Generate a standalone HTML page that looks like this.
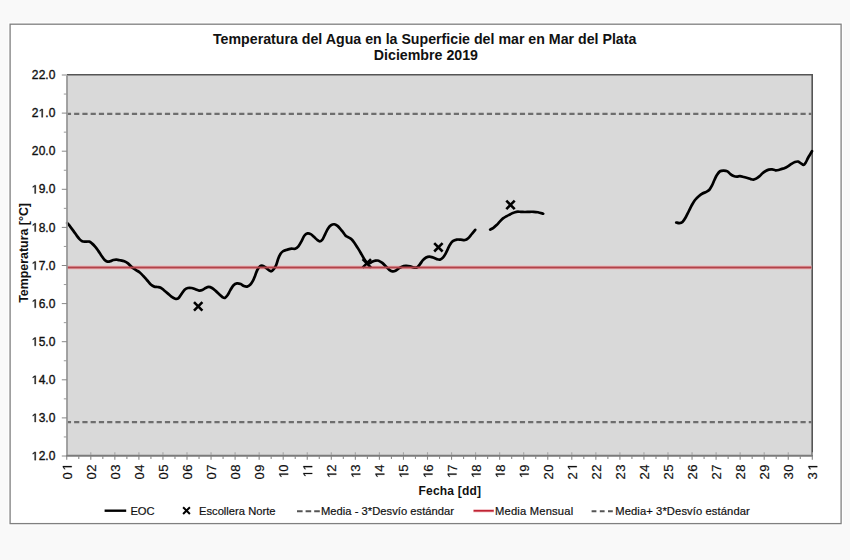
<!DOCTYPE html>
<html><head><meta charset="utf-8"><title>Temperatura del Agua - Mar del Plata</title>
<style>
html,body{margin:0;padding:0;background:#f9f9f9;}
svg{display:block;font-family:"Liberation Sans", sans-serif;}
</style></head><body>
<svg width="850" height="560" viewBox="0 0 850 560">
<rect x="0" y="0" width="850" height="560" fill="#f9f9f9"/>
<rect x="8.85" y="22.95" width="833.45" height="501.85" fill="none" stroke="#ffffff" stroke-width="1.1"/>
<rect x="10.1" y="24.2" width="831.0" height="499.4" fill="#ffffff" stroke="#808080" stroke-width="1.3"/>

<text x="424.7" y="43.9" text-anchor="middle" font-size="14.2" font-weight="bold" fill="#111">Temperatura del Agua en la Superficie del mar en Mar del Plata</text>
<text x="425.9" y="59.8" text-anchor="middle" font-size="14.2" font-weight="bold" fill="#111">Diciembre 2019</text>
<rect x="67" y="75" width="745" height="380.7" fill="#d9d9d9"/>
<path d="M67,74.8H812.2V455.7" fill="none" stroke="#555" stroke-width="1.6"/>
<line x1="67.5" y1="113.9" x2="811.5" y2="113.9" stroke="#6e6e6e" stroke-width="2.2" stroke-dasharray="5.2 3.0545" stroke-dashoffset="1.65"/>
<line x1="67.5" y1="422.1" x2="811.5" y2="422.1" stroke="#6e6e6e" stroke-width="2.2" stroke-dasharray="5.2 3.0545" stroke-dashoffset="1.65"/>
<line x1="67" y1="267.5" x2="811.5" y2="267.5" stroke="#ecbcbe" stroke-width="4.2"/>
<path d="M67.20,223.00 C67.73,223.63 69.33,225.45 70.40,226.80 C71.47,228.15 72.52,229.58 73.60,231.10 C74.68,232.62 75.92,234.57 76.90,235.90 C77.88,237.23 78.62,238.21 79.50,239.10 C80.38,239.99 81.22,240.83 82.20,241.25 C83.18,241.67 84.23,241.54 85.40,241.60 C86.57,241.66 88.12,241.30 89.20,241.60 C90.28,241.90 90.92,242.57 91.90,243.40 C92.88,244.23 94.03,245.35 95.10,246.60 C96.17,247.85 97.23,249.38 98.30,250.90 C99.37,252.42 100.43,254.18 101.50,255.70 C102.57,257.22 103.72,259.02 104.70,260.00 C105.68,260.98 106.50,261.38 107.40,261.60 C108.30,261.82 109.12,261.57 110.10,261.30 C111.08,261.03 112.23,260.27 113.30,260.00 C114.37,259.73 115.43,259.67 116.50,259.70 C117.57,259.73 118.40,259.94 119.70,260.20 C121.00,260.46 122.92,260.72 124.30,261.25 C125.68,261.78 126.75,262.42 128.00,263.40 C129.25,264.38 130.45,265.98 131.80,267.10 C133.15,268.22 134.77,269.20 136.10,270.10 C137.43,271.00 138.55,271.48 139.80,272.50 C141.05,273.52 142.35,274.92 143.60,276.25 C144.85,277.58 146.05,279.07 147.30,280.50 C148.55,281.93 149.93,283.78 151.10,284.80 C152.27,285.82 153.23,286.23 154.30,286.60 C155.37,286.97 156.43,286.82 157.50,287.00 C158.57,287.18 159.63,287.17 160.70,287.70 C161.77,288.23 162.73,289.25 163.90,290.20 C165.07,291.15 166.45,292.33 167.70,293.40 C168.95,294.47 170.15,295.71 171.40,296.60 C172.65,297.49 174.07,298.45 175.20,298.75 C176.33,299.05 177.17,299.17 178.20,298.40 C179.23,297.62 180.33,295.53 181.40,294.10 C182.47,292.67 183.52,290.82 184.60,289.80 C185.68,288.78 186.73,288.30 187.90,288.00 C189.07,287.70 190.35,287.78 191.60,288.00 C192.85,288.22 194.15,288.87 195.40,289.30 C196.65,289.73 197.95,290.47 199.10,290.60 C200.25,290.73 201.23,290.53 202.30,290.10 C203.37,289.67 204.43,288.53 205.50,288.00 C206.57,287.47 207.67,286.90 208.75,286.90 C209.83,286.90 210.84,287.33 212.00,288.00 C213.16,288.67 214.45,289.83 215.70,290.90 C216.95,291.97 218.33,293.33 219.50,294.40 C220.67,295.47 221.82,296.72 222.70,297.30 C223.58,297.88 224.00,298.25 224.80,297.90 C225.60,297.55 226.60,296.45 227.50,295.20 C228.40,293.95 229.23,292.02 230.20,290.40 C231.17,288.78 232.17,286.67 233.30,285.50 C234.43,284.33 235.77,283.63 237.00,283.40 C238.23,283.17 239.55,283.65 240.70,284.10 C241.85,284.55 242.83,285.68 243.90,286.10 C244.97,286.52 246.02,286.87 247.10,286.60 C248.18,286.33 249.42,285.48 250.40,284.50 C251.38,283.52 252.20,282.22 253.00,280.70 C253.80,279.18 254.48,277.18 255.20,275.40 C255.92,273.62 256.50,271.52 257.30,270.00 C258.10,268.48 259.10,266.97 260.00,266.25 C260.90,265.53 261.80,265.52 262.70,265.70 C263.60,265.88 264.42,266.58 265.40,267.30 C266.38,268.02 267.62,269.33 268.60,270.00 C269.58,270.67 270.37,271.48 271.25,271.30 C272.13,271.12 273.09,269.92 273.90,268.90 C274.71,267.88 275.38,266.89 276.10,265.20 C276.82,263.51 277.48,260.63 278.20,258.75 C278.92,256.87 279.60,255.15 280.40,253.90 C281.20,252.65 282.02,251.92 283.00,251.25 C283.98,250.58 285.38,250.21 286.25,249.90 C287.12,249.59 287.34,249.62 288.20,249.40 C289.06,249.18 290.23,248.70 291.40,248.60 C292.57,248.50 294.03,249.17 295.20,248.80 C296.37,248.43 297.33,247.68 298.40,246.40 C299.47,245.12 300.62,242.88 301.60,241.10 C302.58,239.32 303.32,236.98 304.30,235.70 C305.28,234.42 306.43,233.67 307.50,233.40 C308.57,233.13 309.63,233.53 310.70,234.10 C311.77,234.67 312.83,235.85 313.90,236.80 C314.97,237.75 316.12,239.05 317.10,239.80 C318.08,240.55 318.90,241.35 319.80,241.30 C320.70,241.25 321.60,240.70 322.50,239.50 C323.40,238.30 324.30,235.89 325.20,234.10 C326.10,232.31 326.92,230.23 327.90,228.75 C328.88,227.27 330.03,225.95 331.10,225.20 C332.17,224.45 333.23,224.13 334.30,224.25 C335.37,224.37 336.43,225.06 337.50,225.90 C338.57,226.74 339.83,228.32 340.70,229.30 C341.57,230.28 341.92,230.77 342.70,231.80 C343.48,232.83 344.52,234.62 345.40,235.50 C346.28,236.38 347.02,236.50 348.00,237.10 C348.98,237.70 350.17,238.12 351.25,239.10 C352.33,240.08 353.43,241.53 354.50,243.00 C355.57,244.47 356.63,246.20 357.70,247.90 C358.77,249.60 359.92,251.52 360.90,253.20 C361.88,254.88 362.71,256.57 363.60,258.00 C364.49,259.43 365.37,260.90 366.25,261.80 C367.13,262.70 367.92,263.40 368.90,263.40 C369.88,263.40 371.02,262.25 372.10,261.80 C373.18,261.35 374.32,260.88 375.40,260.70 C376.48,260.52 377.45,260.33 378.60,260.70 C379.75,261.07 381.05,261.92 382.30,262.90 C383.55,263.88 384.93,265.45 386.10,266.60 C387.27,267.75 388.23,269.00 389.30,269.80 C390.37,270.60 391.47,271.23 392.50,271.40 C393.53,271.57 394.55,271.24 395.50,270.80 C396.45,270.36 397.22,269.40 398.20,268.75 C399.18,268.10 400.15,267.38 401.40,266.90 C402.65,266.42 404.27,266.00 405.70,265.90 C407.13,265.80 408.57,266.00 410.00,266.30 C411.43,266.60 413.05,267.57 414.30,267.70 C415.55,267.83 416.52,267.73 417.50,267.10 C418.48,266.47 419.30,265.05 420.20,263.90 C421.10,262.75 421.92,261.27 422.90,260.20 C423.88,259.13 425.03,258.10 426.10,257.50 C427.17,256.90 428.15,256.60 429.30,256.60 C430.45,256.60 431.75,257.08 433.00,257.50 C434.25,257.92 435.63,258.75 436.80,259.10 C437.97,259.45 438.98,259.83 440.00,259.60 C441.02,259.37 441.97,258.70 442.90,257.70 C443.83,256.70 444.77,255.08 445.60,253.60 C446.43,252.12 447.15,250.33 447.90,248.80 C448.65,247.27 449.28,245.67 450.10,244.40 C450.92,243.13 451.68,242.00 452.80,241.20 C453.92,240.40 455.48,239.85 456.80,239.60 C458.12,239.35 459.33,239.63 460.70,239.70 C462.07,239.77 463.75,240.25 465.00,240.00 C466.25,239.75 467.13,239.12 468.20,238.20 C469.27,237.28 470.23,235.88 471.40,234.50 C472.57,233.12 474.57,230.67 475.20,229.90" fill="none" stroke="#000" stroke-width="2.7" stroke-linejoin="round" stroke-linecap="round"/>
<path d="M490.20,229.60 C490.73,229.30 492.33,228.57 493.40,227.80 C494.47,227.03 495.53,226.03 496.60,225.00 C497.67,223.97 498.73,222.70 499.80,221.60 C500.87,220.50 501.88,219.30 503.00,218.40 C504.12,217.50 505.33,216.85 506.50,216.20 C507.67,215.55 508.97,215.02 510.00,214.50 C511.03,213.98 511.63,213.55 512.70,213.10 C513.77,212.65 515.07,212.02 516.40,211.80 C517.73,211.58 519.27,211.77 520.70,211.80 C522.13,211.83 523.57,212.00 525.00,212.00 C526.43,212.00 527.87,211.83 529.30,211.80 C530.73,211.77 532.17,211.72 533.60,211.80 C535.03,211.88 536.30,211.98 537.90,212.30 C539.50,212.62 542.32,213.47 543.20,213.70" fill="none" stroke="#000" stroke-width="2.7" stroke-linejoin="round" stroke-linecap="round"/>
<path d="M676.25,222.50 C676.77,222.60 678.36,223.20 679.40,223.10 C680.44,223.00 681.47,222.83 682.50,221.90 C683.53,220.97 684.56,219.28 685.60,217.50 C686.64,215.72 687.70,213.33 688.75,211.25 C689.80,209.17 690.86,206.88 691.90,205.00 C692.94,203.12 693.86,201.46 695.00,200.00 C696.14,198.54 697.50,197.33 698.75,196.25 C700.00,195.17 701.25,194.22 702.50,193.50 C703.75,192.78 705.10,192.53 706.25,191.90 C707.40,191.28 708.46,190.80 709.40,189.75 C710.34,188.70 711.07,187.22 711.90,185.60 C712.73,183.97 713.57,181.77 714.40,180.00 C715.23,178.23 715.97,176.46 716.90,175.00 C717.83,173.54 718.86,171.98 720.00,171.25 C721.14,170.52 722.50,170.57 723.75,170.60 C725.00,170.62 726.39,170.82 727.50,171.40 C728.61,171.98 729.38,173.35 730.40,174.10 C731.42,174.85 732.53,175.48 733.60,175.90 C734.67,176.32 735.73,176.55 736.80,176.60 C737.87,176.65 738.84,176.13 740.00,176.20 C741.16,176.27 742.50,176.70 743.75,177.00 C745.00,177.30 746.34,177.65 747.50,178.00 C748.66,178.35 749.72,178.83 750.70,179.10 C751.68,179.37 752.50,179.68 753.40,179.60 C754.30,179.52 755.12,179.13 756.10,178.60 C757.08,178.07 758.23,177.30 759.30,176.40 C760.37,175.50 761.43,174.10 762.50,173.20 C763.57,172.30 764.63,171.60 765.70,171.00 C766.77,170.40 767.83,169.87 768.90,169.60 C769.97,169.33 771.02,169.28 772.10,169.40 C773.18,169.52 774.32,170.20 775.40,170.30 C776.48,170.40 777.53,170.23 778.60,170.00 C779.67,169.77 780.85,169.20 781.80,168.90 C782.75,168.60 783.28,168.63 784.30,168.20 C785.32,167.77 786.72,167.02 787.90,166.30 C789.08,165.58 790.22,164.62 791.40,163.90 C792.58,163.18 793.87,162.38 795.00,162.00 C796.13,161.62 797.20,161.37 798.20,161.60 C799.20,161.83 800.10,162.85 801.00,163.40 C801.90,163.95 802.80,165.07 803.60,164.90 C804.40,164.73 805.07,163.55 805.80,162.40 C806.53,161.25 807.23,159.40 808.00,158.00 C808.77,156.60 809.73,155.13 810.40,154.00 C811.07,152.87 811.73,151.67 812.00,151.20" fill="none" stroke="#000" stroke-width="2.7" stroke-linejoin="round" stroke-linecap="round"/>
<path d="M194.00,302.20L202.40,310.60M194.00,310.60L202.40,302.20" stroke="#000" stroke-width="2.6" fill="none"/>
<path d="M362.60,259.20L371.00,267.60M362.60,267.60L371.00,259.20" stroke="#000" stroke-width="2.6" fill="none"/>
<path d="M434.20,243.10L442.60,251.50M434.20,251.50L442.60,243.10" stroke="#000" stroke-width="2.6" fill="none"/>
<path d="M506.30,200.70L514.70,209.10M506.30,209.10L514.70,200.70" stroke="#000" stroke-width="2.6" fill="none"/>
<line x1="67" y1="267.5" x2="811.5" y2="267.5" stroke="#b2434a" stroke-width="1.9"/>
<line x1="67" y1="75.6" x2="67" y2="456" stroke="#999" stroke-width="1.8"/>
<line x1="66" y1="455.7" x2="813" y2="455.7" stroke="#7a7a7a" stroke-width="2"/>
<line x1="61.8" y1="456.00" x2="67" y2="456.00" stroke="#888" stroke-width="1"/>
<g transform="translate(55.5,460.15)"><path transform="translate(-23.84,0) scale(0.005859,-0.005859)" d="M515,0V1237L197,1010V1180L530,1409H696V0Z" fill="#111" stroke="#111" stroke-width="59.7"/><text x="-16.84" y="0" font-size="12" fill="#111" stroke="#111" stroke-width="0.35">2</text><text x="-10.17" y="0" font-size="12" fill="#111" stroke="#111" stroke-width="0.35">.</text><text x="-6.84" y="0" font-size="12" fill="#111" stroke="#111" stroke-width="0.35">0</text></g>
<line x1="63.8" y1="436.95" x2="67" y2="436.95" stroke="#999" stroke-width="1"/>
<line x1="61.8" y1="417.90" x2="67" y2="417.90" stroke="#888" stroke-width="1"/>
<g transform="translate(55.5,422.05)"><path transform="translate(-23.84,0) scale(0.005859,-0.005859)" d="M515,0V1237L197,1010V1180L530,1409H696V0Z" fill="#111" stroke="#111" stroke-width="59.7"/><text x="-16.84" y="0" font-size="12" fill="#111" stroke="#111" stroke-width="0.35">3</text><text x="-10.17" y="0" font-size="12" fill="#111" stroke="#111" stroke-width="0.35">.</text><text x="-6.84" y="0" font-size="12" fill="#111" stroke="#111" stroke-width="0.35">0</text></g>
<line x1="63.8" y1="398.85" x2="67" y2="398.85" stroke="#999" stroke-width="1"/>
<line x1="61.8" y1="379.80" x2="67" y2="379.80" stroke="#888" stroke-width="1"/>
<g transform="translate(55.5,383.95)"><path transform="translate(-23.84,0) scale(0.005859,-0.005859)" d="M515,0V1237L197,1010V1180L530,1409H696V0Z" fill="#111" stroke="#111" stroke-width="59.7"/><text x="-16.84" y="0" font-size="12" fill="#111" stroke="#111" stroke-width="0.35">4</text><text x="-10.17" y="0" font-size="12" fill="#111" stroke="#111" stroke-width="0.35">.</text><text x="-6.84" y="0" font-size="12" fill="#111" stroke="#111" stroke-width="0.35">0</text></g>
<line x1="63.8" y1="360.75" x2="67" y2="360.75" stroke="#999" stroke-width="1"/>
<line x1="61.8" y1="341.70" x2="67" y2="341.70" stroke="#888" stroke-width="1"/>
<g transform="translate(55.5,345.85)"><path transform="translate(-23.84,0) scale(0.005859,-0.005859)" d="M515,0V1237L197,1010V1180L530,1409H696V0Z" fill="#111" stroke="#111" stroke-width="59.7"/><text x="-16.84" y="0" font-size="12" fill="#111" stroke="#111" stroke-width="0.35">5</text><text x="-10.17" y="0" font-size="12" fill="#111" stroke="#111" stroke-width="0.35">.</text><text x="-6.84" y="0" font-size="12" fill="#111" stroke="#111" stroke-width="0.35">0</text></g>
<line x1="63.8" y1="322.65" x2="67" y2="322.65" stroke="#999" stroke-width="1"/>
<line x1="61.8" y1="303.60" x2="67" y2="303.60" stroke="#888" stroke-width="1"/>
<g transform="translate(55.5,307.75)"><path transform="translate(-23.84,0) scale(0.005859,-0.005859)" d="M515,0V1237L197,1010V1180L530,1409H696V0Z" fill="#111" stroke="#111" stroke-width="59.7"/><text x="-16.84" y="0" font-size="12" fill="#111" stroke="#111" stroke-width="0.35">6</text><text x="-10.17" y="0" font-size="12" fill="#111" stroke="#111" stroke-width="0.35">.</text><text x="-6.84" y="0" font-size="12" fill="#111" stroke="#111" stroke-width="0.35">0</text></g>
<line x1="63.8" y1="284.55" x2="67" y2="284.55" stroke="#999" stroke-width="1"/>
<line x1="61.8" y1="265.50" x2="67" y2="265.50" stroke="#888" stroke-width="1"/>
<g transform="translate(55.5,269.65)"><path transform="translate(-23.84,0) scale(0.005859,-0.005859)" d="M515,0V1237L197,1010V1180L530,1409H696V0Z" fill="#111" stroke="#111" stroke-width="59.7"/><text x="-16.84" y="0" font-size="12" fill="#111" stroke="#111" stroke-width="0.35">7</text><text x="-10.17" y="0" font-size="12" fill="#111" stroke="#111" stroke-width="0.35">.</text><text x="-6.84" y="0" font-size="12" fill="#111" stroke="#111" stroke-width="0.35">0</text></g>
<line x1="63.8" y1="246.45" x2="67" y2="246.45" stroke="#999" stroke-width="1"/>
<line x1="61.8" y1="227.40" x2="67" y2="227.40" stroke="#888" stroke-width="1"/>
<g transform="translate(55.5,231.55)"><path transform="translate(-23.84,0) scale(0.005859,-0.005859)" d="M515,0V1237L197,1010V1180L530,1409H696V0Z" fill="#111" stroke="#111" stroke-width="59.7"/><text x="-16.84" y="0" font-size="12" fill="#111" stroke="#111" stroke-width="0.35">8</text><text x="-10.17" y="0" font-size="12" fill="#111" stroke="#111" stroke-width="0.35">.</text><text x="-6.84" y="0" font-size="12" fill="#111" stroke="#111" stroke-width="0.35">0</text></g>
<line x1="63.8" y1="208.35" x2="67" y2="208.35" stroke="#999" stroke-width="1"/>
<line x1="61.8" y1="189.30" x2="67" y2="189.30" stroke="#888" stroke-width="1"/>
<g transform="translate(55.5,193.45)"><path transform="translate(-23.84,0) scale(0.005859,-0.005859)" d="M515,0V1237L197,1010V1180L530,1409H696V0Z" fill="#111" stroke="#111" stroke-width="59.7"/><text x="-16.84" y="0" font-size="12" fill="#111" stroke="#111" stroke-width="0.35">9</text><text x="-10.17" y="0" font-size="12" fill="#111" stroke="#111" stroke-width="0.35">.</text><text x="-6.84" y="0" font-size="12" fill="#111" stroke="#111" stroke-width="0.35">0</text></g>
<line x1="63.8" y1="170.25" x2="67" y2="170.25" stroke="#999" stroke-width="1"/>
<line x1="61.8" y1="151.20" x2="67" y2="151.20" stroke="#888" stroke-width="1"/>
<g transform="translate(55.5,155.35)"><text x="-23.84" y="0" font-size="12" fill="#111" stroke="#111" stroke-width="0.35">2</text><text x="-16.84" y="0" font-size="12" fill="#111" stroke="#111" stroke-width="0.35">0</text><text x="-10.17" y="0" font-size="12" fill="#111" stroke="#111" stroke-width="0.35">.</text><text x="-6.84" y="0" font-size="12" fill="#111" stroke="#111" stroke-width="0.35">0</text></g>
<line x1="63.8" y1="132.15" x2="67" y2="132.15" stroke="#999" stroke-width="1"/>
<line x1="61.8" y1="113.10" x2="67" y2="113.10" stroke="#888" stroke-width="1"/>
<g transform="translate(55.5,117.25)"><text x="-23.84" y="0" font-size="12" fill="#111" stroke="#111" stroke-width="0.35">2</text><path transform="translate(-16.84,0) scale(0.005859,-0.005859)" d="M515,0V1237L197,1010V1180L530,1409H696V0Z" fill="#111" stroke="#111" stroke-width="59.7"/><text x="-10.17" y="0" font-size="12" fill="#111" stroke="#111" stroke-width="0.35">.</text><text x="-6.84" y="0" font-size="12" fill="#111" stroke="#111" stroke-width="0.35">0</text></g>
<line x1="63.8" y1="94.05" x2="67" y2="94.05" stroke="#999" stroke-width="1"/>
<line x1="61.8" y1="75.00" x2="67" y2="75.00" stroke="#888" stroke-width="1"/>
<g transform="translate(55.5,79.15)"><text x="-23.84" y="0" font-size="12" fill="#111" stroke="#111" stroke-width="0.35">2</text><text x="-16.84" y="0" font-size="12" fill="#111" stroke="#111" stroke-width="0.35">2</text><text x="-10.17" y="0" font-size="12" fill="#111" stroke="#111" stroke-width="0.35">.</text><text x="-6.84" y="0" font-size="12" fill="#111" stroke="#111" stroke-width="0.35">0</text></g>
<line x1="66.75" y1="452.2" x2="66.75" y2="455" stroke="#a5a5a5" stroke-width="1.1"/>
<line x1="66.75" y1="456" x2="66.75" y2="459.7" stroke="#858585" stroke-width="1.1"/>
<line x1="78.78" y1="455.7" x2="78.78" y2="458.9" stroke="#8a8a8a" stroke-width="1.1"/>
<g transform="translate(71.75,464.4) rotate(-90)"><text x="-15.01" y="0" font-size="13" fill="#111" stroke="#111" stroke-width="0.2">0</text><path transform="translate(-6.01,0) scale(0.006348,-0.006348)" d="M515,0V1237L197,1010V1180L530,1409H696V0Z" fill="#111" stroke="#111" stroke-width="31.5"/></g>
<line x1="90.80" y1="452.2" x2="90.80" y2="455" stroke="#a5a5a5" stroke-width="1.1"/>
<line x1="90.80" y1="456" x2="90.80" y2="459.7" stroke="#858585" stroke-width="1.1"/>
<line x1="102.83" y1="455.7" x2="102.83" y2="458.9" stroke="#8a8a8a" stroke-width="1.1"/>
<g transform="translate(95.80,464.4) rotate(-90)"><text x="-15.01" y="0" font-size="13" fill="#111" stroke="#111" stroke-width="0.2">0</text><text x="-7.41" y="0" font-size="13" fill="#111" stroke="#111" stroke-width="0.2">2</text></g>
<line x1="114.85" y1="452.2" x2="114.85" y2="455" stroke="#a5a5a5" stroke-width="1.1"/>
<line x1="114.85" y1="456" x2="114.85" y2="459.7" stroke="#858585" stroke-width="1.1"/>
<line x1="126.88" y1="455.7" x2="126.88" y2="458.9" stroke="#8a8a8a" stroke-width="1.1"/>
<g transform="translate(119.85,464.4) rotate(-90)"><text x="-15.01" y="0" font-size="13" fill="#111" stroke="#111" stroke-width="0.2">0</text><text x="-7.41" y="0" font-size="13" fill="#111" stroke="#111" stroke-width="0.2">3</text></g>
<line x1="138.90" y1="452.2" x2="138.90" y2="455" stroke="#a5a5a5" stroke-width="1.1"/>
<line x1="138.90" y1="456" x2="138.90" y2="459.7" stroke="#858585" stroke-width="1.1"/>
<line x1="150.93" y1="455.7" x2="150.93" y2="458.9" stroke="#8a8a8a" stroke-width="1.1"/>
<g transform="translate(143.90,464.4) rotate(-90)"><text x="-15.01" y="0" font-size="13" fill="#111" stroke="#111" stroke-width="0.2">0</text><text x="-7.41" y="0" font-size="13" fill="#111" stroke="#111" stroke-width="0.2">4</text></g>
<line x1="162.95" y1="452.2" x2="162.95" y2="455" stroke="#a5a5a5" stroke-width="1.1"/>
<line x1="162.95" y1="456" x2="162.95" y2="459.7" stroke="#858585" stroke-width="1.1"/>
<line x1="174.97" y1="455.7" x2="174.97" y2="458.9" stroke="#8a8a8a" stroke-width="1.1"/>
<g transform="translate(167.95,464.4) rotate(-90)"><text x="-15.01" y="0" font-size="13" fill="#111" stroke="#111" stroke-width="0.2">0</text><text x="-7.41" y="0" font-size="13" fill="#111" stroke="#111" stroke-width="0.2">5</text></g>
<line x1="187.00" y1="452.2" x2="187.00" y2="455" stroke="#a5a5a5" stroke-width="1.1"/>
<line x1="187.00" y1="456" x2="187.00" y2="459.7" stroke="#858585" stroke-width="1.1"/>
<line x1="199.03" y1="455.7" x2="199.03" y2="458.9" stroke="#8a8a8a" stroke-width="1.1"/>
<g transform="translate(192.00,464.4) rotate(-90)"><text x="-15.01" y="0" font-size="13" fill="#111" stroke="#111" stroke-width="0.2">0</text><text x="-7.41" y="0" font-size="13" fill="#111" stroke="#111" stroke-width="0.2">6</text></g>
<line x1="211.05" y1="452.2" x2="211.05" y2="455" stroke="#a5a5a5" stroke-width="1.1"/>
<line x1="211.05" y1="456" x2="211.05" y2="459.7" stroke="#858585" stroke-width="1.1"/>
<line x1="223.08" y1="455.7" x2="223.08" y2="458.9" stroke="#8a8a8a" stroke-width="1.1"/>
<g transform="translate(216.05,464.4) rotate(-90)"><text x="-15.01" y="0" font-size="13" fill="#111" stroke="#111" stroke-width="0.2">0</text><text x="-7.41" y="0" font-size="13" fill="#111" stroke="#111" stroke-width="0.2">7</text></g>
<line x1="235.10" y1="452.2" x2="235.10" y2="455" stroke="#a5a5a5" stroke-width="1.1"/>
<line x1="235.10" y1="456" x2="235.10" y2="459.7" stroke="#858585" stroke-width="1.1"/>
<line x1="247.12" y1="455.7" x2="247.12" y2="458.9" stroke="#8a8a8a" stroke-width="1.1"/>
<g transform="translate(240.10,464.4) rotate(-90)"><text x="-15.01" y="0" font-size="13" fill="#111" stroke="#111" stroke-width="0.2">0</text><text x="-7.41" y="0" font-size="13" fill="#111" stroke="#111" stroke-width="0.2">8</text></g>
<line x1="259.15" y1="452.2" x2="259.15" y2="455" stroke="#a5a5a5" stroke-width="1.1"/>
<line x1="259.15" y1="456" x2="259.15" y2="459.7" stroke="#858585" stroke-width="1.1"/>
<line x1="271.17" y1="455.7" x2="271.17" y2="458.9" stroke="#8a8a8a" stroke-width="1.1"/>
<g transform="translate(264.15,464.4) rotate(-90)"><text x="-15.01" y="0" font-size="13" fill="#111" stroke="#111" stroke-width="0.2">0</text><text x="-7.41" y="0" font-size="13" fill="#111" stroke="#111" stroke-width="0.2">9</text></g>
<line x1="283.20" y1="452.2" x2="283.20" y2="455" stroke="#a5a5a5" stroke-width="1.1"/>
<line x1="283.20" y1="456" x2="283.20" y2="459.7" stroke="#858585" stroke-width="1.1"/>
<line x1="295.23" y1="455.7" x2="295.23" y2="458.9" stroke="#8a8a8a" stroke-width="1.1"/>
<g transform="translate(288.20,464.4) rotate(-90)"><path transform="translate(-13.61,0) scale(0.006348,-0.006348)" d="M515,0V1237L197,1010V1180L530,1409H696V0Z" fill="#111" stroke="#111" stroke-width="31.5"/><text x="-7.41" y="0" font-size="13" fill="#111" stroke="#111" stroke-width="0.2">0</text></g>
<line x1="307.25" y1="452.2" x2="307.25" y2="455" stroke="#a5a5a5" stroke-width="1.1"/>
<line x1="307.25" y1="456" x2="307.25" y2="459.7" stroke="#858585" stroke-width="1.1"/>
<line x1="319.27" y1="455.7" x2="319.27" y2="458.9" stroke="#8a8a8a" stroke-width="1.1"/>
<g transform="translate(312.25,464.4) rotate(-90)"><path transform="translate(-12.91,0) scale(0.006348,-0.006348)" d="M515,0V1237L197,1010V1180L530,1409H696V0Z" fill="#111" stroke="#111" stroke-width="31.5"/><path transform="translate(-6.01,0) scale(0.006348,-0.006348)" d="M515,0V1237L197,1010V1180L530,1409H696V0Z" fill="#111" stroke="#111" stroke-width="31.5"/></g>
<line x1="331.30" y1="452.2" x2="331.30" y2="455" stroke="#a5a5a5" stroke-width="1.1"/>
<line x1="331.30" y1="456" x2="331.30" y2="459.7" stroke="#858585" stroke-width="1.1"/>
<line x1="343.32" y1="455.7" x2="343.32" y2="458.9" stroke="#8a8a8a" stroke-width="1.1"/>
<g transform="translate(336.30,464.4) rotate(-90)"><path transform="translate(-13.61,0) scale(0.006348,-0.006348)" d="M515,0V1237L197,1010V1180L530,1409H696V0Z" fill="#111" stroke="#111" stroke-width="31.5"/><text x="-7.41" y="0" font-size="13" fill="#111" stroke="#111" stroke-width="0.2">2</text></g>
<line x1="355.35" y1="452.2" x2="355.35" y2="455" stroke="#a5a5a5" stroke-width="1.1"/>
<line x1="355.35" y1="456" x2="355.35" y2="459.7" stroke="#858585" stroke-width="1.1"/>
<line x1="367.38" y1="455.7" x2="367.38" y2="458.9" stroke="#8a8a8a" stroke-width="1.1"/>
<g transform="translate(360.35,464.4) rotate(-90)"><path transform="translate(-13.61,0) scale(0.006348,-0.006348)" d="M515,0V1237L197,1010V1180L530,1409H696V0Z" fill="#111" stroke="#111" stroke-width="31.5"/><text x="-7.41" y="0" font-size="13" fill="#111" stroke="#111" stroke-width="0.2">3</text></g>
<line x1="379.40" y1="452.2" x2="379.40" y2="455" stroke="#a5a5a5" stroke-width="1.1"/>
<line x1="379.40" y1="456" x2="379.40" y2="459.7" stroke="#858585" stroke-width="1.1"/>
<line x1="391.43" y1="455.7" x2="391.43" y2="458.9" stroke="#8a8a8a" stroke-width="1.1"/>
<g transform="translate(384.40,464.4) rotate(-90)"><path transform="translate(-13.61,0) scale(0.006348,-0.006348)" d="M515,0V1237L197,1010V1180L530,1409H696V0Z" fill="#111" stroke="#111" stroke-width="31.5"/><text x="-7.41" y="0" font-size="13" fill="#111" stroke="#111" stroke-width="0.2">4</text></g>
<line x1="403.45" y1="452.2" x2="403.45" y2="455" stroke="#a5a5a5" stroke-width="1.1"/>
<line x1="403.45" y1="456" x2="403.45" y2="459.7" stroke="#858585" stroke-width="1.1"/>
<line x1="415.47" y1="455.7" x2="415.47" y2="458.9" stroke="#8a8a8a" stroke-width="1.1"/>
<g transform="translate(408.45,464.4) rotate(-90)"><path transform="translate(-13.61,0) scale(0.006348,-0.006348)" d="M515,0V1237L197,1010V1180L530,1409H696V0Z" fill="#111" stroke="#111" stroke-width="31.5"/><text x="-7.41" y="0" font-size="13" fill="#111" stroke="#111" stroke-width="0.2">5</text></g>
<line x1="427.50" y1="452.2" x2="427.50" y2="455" stroke="#a5a5a5" stroke-width="1.1"/>
<line x1="427.50" y1="456" x2="427.50" y2="459.7" stroke="#858585" stroke-width="1.1"/>
<line x1="439.52" y1="455.7" x2="439.52" y2="458.9" stroke="#8a8a8a" stroke-width="1.1"/>
<g transform="translate(432.50,464.4) rotate(-90)"><path transform="translate(-13.61,0) scale(0.006348,-0.006348)" d="M515,0V1237L197,1010V1180L530,1409H696V0Z" fill="#111" stroke="#111" stroke-width="31.5"/><text x="-7.41" y="0" font-size="13" fill="#111" stroke="#111" stroke-width="0.2">6</text></g>
<line x1="451.55" y1="452.2" x2="451.55" y2="455" stroke="#a5a5a5" stroke-width="1.1"/>
<line x1="451.55" y1="456" x2="451.55" y2="459.7" stroke="#858585" stroke-width="1.1"/>
<line x1="463.57" y1="455.7" x2="463.57" y2="458.9" stroke="#8a8a8a" stroke-width="1.1"/>
<g transform="translate(456.55,464.4) rotate(-90)"><path transform="translate(-13.61,0) scale(0.006348,-0.006348)" d="M515,0V1237L197,1010V1180L530,1409H696V0Z" fill="#111" stroke="#111" stroke-width="31.5"/><text x="-7.41" y="0" font-size="13" fill="#111" stroke="#111" stroke-width="0.2">7</text></g>
<line x1="475.60" y1="452.2" x2="475.60" y2="455" stroke="#a5a5a5" stroke-width="1.1"/>
<line x1="475.60" y1="456" x2="475.60" y2="459.7" stroke="#858585" stroke-width="1.1"/>
<line x1="487.62" y1="455.7" x2="487.62" y2="458.9" stroke="#8a8a8a" stroke-width="1.1"/>
<g transform="translate(480.60,464.4) rotate(-90)"><path transform="translate(-13.61,0) scale(0.006348,-0.006348)" d="M515,0V1237L197,1010V1180L530,1409H696V0Z" fill="#111" stroke="#111" stroke-width="31.5"/><text x="-7.41" y="0" font-size="13" fill="#111" stroke="#111" stroke-width="0.2">8</text></g>
<line x1="499.65" y1="452.2" x2="499.65" y2="455" stroke="#a5a5a5" stroke-width="1.1"/>
<line x1="499.65" y1="456" x2="499.65" y2="459.7" stroke="#858585" stroke-width="1.1"/>
<line x1="511.68" y1="455.7" x2="511.68" y2="458.9" stroke="#8a8a8a" stroke-width="1.1"/>
<g transform="translate(504.65,464.4) rotate(-90)"><path transform="translate(-13.61,0) scale(0.006348,-0.006348)" d="M515,0V1237L197,1010V1180L530,1409H696V0Z" fill="#111" stroke="#111" stroke-width="31.5"/><text x="-7.41" y="0" font-size="13" fill="#111" stroke="#111" stroke-width="0.2">8</text></g>
<line x1="523.70" y1="452.2" x2="523.70" y2="455" stroke="#a5a5a5" stroke-width="1.1"/>
<line x1="523.70" y1="456" x2="523.70" y2="459.7" stroke="#858585" stroke-width="1.1"/>
<line x1="535.73" y1="455.7" x2="535.73" y2="458.9" stroke="#8a8a8a" stroke-width="1.1"/>
<g transform="translate(528.70,464.4) rotate(-90)"><path transform="translate(-13.61,0) scale(0.006348,-0.006348)" d="M515,0V1237L197,1010V1180L530,1409H696V0Z" fill="#111" stroke="#111" stroke-width="31.5"/><text x="-7.41" y="0" font-size="13" fill="#111" stroke="#111" stroke-width="0.2">9</text></g>
<line x1="547.75" y1="452.2" x2="547.75" y2="455" stroke="#a5a5a5" stroke-width="1.1"/>
<line x1="547.75" y1="456" x2="547.75" y2="459.7" stroke="#858585" stroke-width="1.1"/>
<line x1="559.77" y1="455.7" x2="559.77" y2="458.9" stroke="#8a8a8a" stroke-width="1.1"/>
<g transform="translate(552.75,464.4) rotate(-90)"><text x="-15.01" y="0" font-size="13" fill="#111" stroke="#111" stroke-width="0.2">2</text><text x="-7.41" y="0" font-size="13" fill="#111" stroke="#111" stroke-width="0.2">0</text></g>
<line x1="571.80" y1="452.2" x2="571.80" y2="455" stroke="#a5a5a5" stroke-width="1.1"/>
<line x1="571.80" y1="456" x2="571.80" y2="459.7" stroke="#858585" stroke-width="1.1"/>
<line x1="583.82" y1="455.7" x2="583.82" y2="458.9" stroke="#8a8a8a" stroke-width="1.1"/>
<g transform="translate(576.80,464.4) rotate(-90)"><text x="-15.01" y="0" font-size="13" fill="#111" stroke="#111" stroke-width="0.2">2</text><path transform="translate(-6.01,0) scale(0.006348,-0.006348)" d="M515,0V1237L197,1010V1180L530,1409H696V0Z" fill="#111" stroke="#111" stroke-width="31.5"/></g>
<line x1="595.85" y1="452.2" x2="595.85" y2="455" stroke="#a5a5a5" stroke-width="1.1"/>
<line x1="595.85" y1="456" x2="595.85" y2="459.7" stroke="#858585" stroke-width="1.1"/>
<line x1="607.88" y1="455.7" x2="607.88" y2="458.9" stroke="#8a8a8a" stroke-width="1.1"/>
<g transform="translate(600.85,464.4) rotate(-90)"><text x="-15.01" y="0" font-size="13" fill="#111" stroke="#111" stroke-width="0.2">2</text><text x="-7.41" y="0" font-size="13" fill="#111" stroke="#111" stroke-width="0.2">2</text></g>
<line x1="619.90" y1="452.2" x2="619.90" y2="455" stroke="#a5a5a5" stroke-width="1.1"/>
<line x1="619.90" y1="456" x2="619.90" y2="459.7" stroke="#858585" stroke-width="1.1"/>
<line x1="631.92" y1="455.7" x2="631.92" y2="458.9" stroke="#8a8a8a" stroke-width="1.1"/>
<g transform="translate(624.90,464.4) rotate(-90)"><text x="-15.01" y="0" font-size="13" fill="#111" stroke="#111" stroke-width="0.2">2</text><text x="-7.41" y="0" font-size="13" fill="#111" stroke="#111" stroke-width="0.2">3</text></g>
<line x1="643.95" y1="452.2" x2="643.95" y2="455" stroke="#a5a5a5" stroke-width="1.1"/>
<line x1="643.95" y1="456" x2="643.95" y2="459.7" stroke="#858585" stroke-width="1.1"/>
<line x1="655.98" y1="455.7" x2="655.98" y2="458.9" stroke="#8a8a8a" stroke-width="1.1"/>
<g transform="translate(648.95,464.4) rotate(-90)"><text x="-15.01" y="0" font-size="13" fill="#111" stroke="#111" stroke-width="0.2">2</text><text x="-7.41" y="0" font-size="13" fill="#111" stroke="#111" stroke-width="0.2">4</text></g>
<line x1="668.00" y1="452.2" x2="668.00" y2="455" stroke="#a5a5a5" stroke-width="1.1"/>
<line x1="668.00" y1="456" x2="668.00" y2="459.7" stroke="#858585" stroke-width="1.1"/>
<line x1="680.02" y1="455.7" x2="680.02" y2="458.9" stroke="#8a8a8a" stroke-width="1.1"/>
<g transform="translate(673.00,464.4) rotate(-90)"><text x="-15.01" y="0" font-size="13" fill="#111" stroke="#111" stroke-width="0.2">2</text><text x="-7.41" y="0" font-size="13" fill="#111" stroke="#111" stroke-width="0.2">5</text></g>
<line x1="692.05" y1="452.2" x2="692.05" y2="455" stroke="#a5a5a5" stroke-width="1.1"/>
<line x1="692.05" y1="456" x2="692.05" y2="459.7" stroke="#858585" stroke-width="1.1"/>
<line x1="704.08" y1="455.7" x2="704.08" y2="458.9" stroke="#8a8a8a" stroke-width="1.1"/>
<g transform="translate(697.05,464.4) rotate(-90)"><text x="-15.01" y="0" font-size="13" fill="#111" stroke="#111" stroke-width="0.2">2</text><text x="-7.41" y="0" font-size="13" fill="#111" stroke="#111" stroke-width="0.2">6</text></g>
<line x1="716.10" y1="452.2" x2="716.10" y2="455" stroke="#a5a5a5" stroke-width="1.1"/>
<line x1="716.10" y1="456" x2="716.10" y2="459.7" stroke="#858585" stroke-width="1.1"/>
<line x1="728.12" y1="455.7" x2="728.12" y2="458.9" stroke="#8a8a8a" stroke-width="1.1"/>
<g transform="translate(721.10,464.4) rotate(-90)"><text x="-15.01" y="0" font-size="13" fill="#111" stroke="#111" stroke-width="0.2">2</text><text x="-7.41" y="0" font-size="13" fill="#111" stroke="#111" stroke-width="0.2">7</text></g>
<line x1="740.15" y1="452.2" x2="740.15" y2="455" stroke="#a5a5a5" stroke-width="1.1"/>
<line x1="740.15" y1="456" x2="740.15" y2="459.7" stroke="#858585" stroke-width="1.1"/>
<line x1="752.17" y1="455.7" x2="752.17" y2="458.9" stroke="#8a8a8a" stroke-width="1.1"/>
<g transform="translate(745.15,464.4) rotate(-90)"><text x="-15.01" y="0" font-size="13" fill="#111" stroke="#111" stroke-width="0.2">2</text><text x="-7.41" y="0" font-size="13" fill="#111" stroke="#111" stroke-width="0.2">8</text></g>
<line x1="764.20" y1="452.2" x2="764.20" y2="455" stroke="#a5a5a5" stroke-width="1.1"/>
<line x1="764.20" y1="456" x2="764.20" y2="459.7" stroke="#858585" stroke-width="1.1"/>
<line x1="776.23" y1="455.7" x2="776.23" y2="458.9" stroke="#8a8a8a" stroke-width="1.1"/>
<g transform="translate(769.20,464.4) rotate(-90)"><text x="-15.01" y="0" font-size="13" fill="#111" stroke="#111" stroke-width="0.2">2</text><text x="-7.41" y="0" font-size="13" fill="#111" stroke="#111" stroke-width="0.2">9</text></g>
<line x1="788.25" y1="452.2" x2="788.25" y2="455" stroke="#a5a5a5" stroke-width="1.1"/>
<line x1="788.25" y1="456" x2="788.25" y2="459.7" stroke="#858585" stroke-width="1.1"/>
<line x1="800.27" y1="455.7" x2="800.27" y2="458.9" stroke="#8a8a8a" stroke-width="1.1"/>
<g transform="translate(793.25,464.4) rotate(-90)"><text x="-15.01" y="0" font-size="13" fill="#111" stroke="#111" stroke-width="0.2">3</text><text x="-7.41" y="0" font-size="13" fill="#111" stroke="#111" stroke-width="0.2">0</text></g>
<line x1="812.30" y1="452.2" x2="812.30" y2="455" stroke="#a5a5a5" stroke-width="1.1"/>
<line x1="812.30" y1="456" x2="812.30" y2="459.7" stroke="#858585" stroke-width="1.1"/>
<g transform="translate(817.30,464.4) rotate(-90)"><text x="-15.01" y="0" font-size="13" fill="#111" stroke="#111" stroke-width="0.2">3</text><path transform="translate(-6.01,0) scale(0.006348,-0.006348)" d="M515,0V1237L197,1010V1180L530,1409H696V0Z" fill="#111" stroke="#111" stroke-width="31.5"/></g>
<text x="418.5" y="494.8" font-size="12" font-weight="bold" fill="#111" textLength="62.5" lengthAdjust="spacing">Fecha [dd]</text>
<text transform="translate(28.4,252.9) rotate(-90)" text-anchor="middle" font-size="12.4" font-weight="bold" fill="#111">Temperatura [°C]</text>
<line x1="104.6" y1="510.7" x2="126.2" y2="510.7" stroke="#000" stroke-width="2.4"/>
<text x="130.5" y="514.6" font-size="11.2" fill="#111" stroke="#111" stroke-width="0.2" textLength="24" lengthAdjust="spacing">EOC</text>
<path d="M183.1,507.20000000000005L189.9,514.0M183.1,514.0L189.9,507.20000000000005" stroke="#000" stroke-width="2" fill="none"/>
<text x="199" y="514.6" font-size="11.2" fill="#111" stroke="#111" stroke-width="0.2" textLength="76.5" lengthAdjust="spacing">Escollera Norte</text>
<line x1="297" y1="511.2" x2="320.2" y2="511.2" stroke="#555" stroke-width="2" stroke-dasharray="5.6 3.0"/>
<text x="321" y="514.6" font-size="11.2" fill="#111" stroke="#111" stroke-width="0.2" textLength="133" lengthAdjust="spacing">Media - 3*Desvío estándar</text>
<line x1="473.3" y1="510.8" x2="494" y2="510.8" stroke="#f4c4c8" stroke-width="3.2"/>
<line x1="473.6" y1="510.8" x2="493.7" y2="510.8" stroke="#c02434" stroke-width="1.7"/>
<text x="495" y="514.6" font-size="11.2" fill="#111" stroke="#111" stroke-width="0.2" textLength="78.2" lengthAdjust="spacing">Media Mensual</text>
<line x1="591.6" y1="511.2" x2="613" y2="511.2" stroke="#555" stroke-width="2" stroke-dasharray="4.8 3.4"/>
<text x="615.2" y="514.6" font-size="11.2" fill="#111" stroke="#111" stroke-width="0.2" textLength="134.6" lengthAdjust="spacing">Media+ 3*Desvío estándar</text>
</svg>
</body></html>
